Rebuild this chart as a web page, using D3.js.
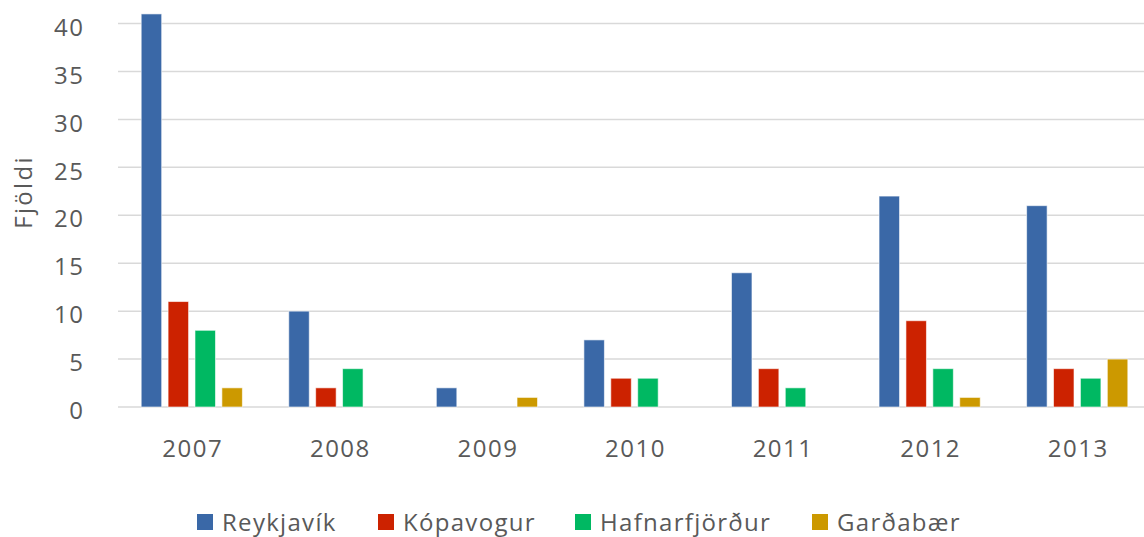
<!DOCTYPE html>
<html>
<head>
<meta charset="utf-8">
<script src="https://cdn.jsdelivr.net/npm/d3@7"></script>
<style>
  html, body { margin: 0; padding: 0; background: #fff; overflow: hidden; }
  svg { display: block; }
</style>
</head>
<body>
<svg id="chart"></svg>
<script>
// data
const years = ["2007", "2008", "2009", "2010", "2011", "2012", "2013"];
const towns = ["Reykjavík", "Kópavogur", "Hafnarfjörður", "Garðabær"];
const reykjavik     = [41, 10, 2, 7, 14, 22, 21];
const kopavogur     = [11, 2, 0, 3, 4, 9, 4];
const hafnarfjordur = [8, 4, 0, 3, 2, 4, 3];
const gardabaer     = [2, 0, 1, 0, 0, 1, 5];
const yTicks = [0, 5, 10, 15, 20, 25, 30, 35, 40];

const series = [reykjavik, kopavogur, hafnarfjordur, gardabaer];
const rows = years.map((y, i) => {
    let r = {year: y};
    towns.forEach((t, ti) => r[t] = series[ti][i]);
    return r;
});

const width = 1144, height = 537;
// plot runs a little past the right edge, like the original
const margin = {top: 23.5, right: -7, bottom: 130, left: 118};
const color = d3.scaleOrdinal().domain(towns)
    .range(["#3a68a7", "#cc2200", "#00b862", "#cc9900"]);
const textColor = "#595959";
const font = "'Open Sans', sans-serif";

const svg = d3.select("#chart").attr("width", width).attr("height", height);

const x0 = d3.scaleBand()
    .domain(years)
    .range([margin.left, width - margin.right])
    .padding(0);
const x1 = d3.scaleBand()
    .domain(towns)
    .range([0, x0.bandwidth()])
    .paddingInner(0.238)
    .paddingOuter(0.862);
const y = d3.scaleLinear()
    .domain([0, 40])
    .range([407, margin.top]);

// gridlines
svg.append("g")
    .selectAll("line")
    .data(yTicks)
    .join("line")
    .attr("x1", margin.left)
    .attr("x2", width)
    .attr("y1", d => y(d))
    .attr("y2", d => y(d))
    .attr("stroke", "#d9d9d9")
    .attr("stroke-width", 1.5);

// y labels
const yAxis = g => g
    .attr("transform", `translate(84.5,4)`)
    .call(d3.axisLeft(y).tickValues(yTicks).tickSize(0).tickPadding(0))
    .call(g => g.select(".domain").remove())
    .call(g => g.selectAll("text")
        .attr("fill", textColor)
        .attr("font-family", font)
        .attr("font-size", 24)
        .attr("letter-spacing", 1.5));
svg.append("g").call(yAxis);

// bars
svg.append("g")
    .selectAll("g")
    .data(rows)
    .join("g")
    .attr("transform", d => `translate(${x0(d.year)},0)`)
    .selectAll("rect")
    .data(d => towns.map(key => ({key, value: d[key]})).filter(d => d.value > 0))
    .join("rect")
    .attr("x", d => x1(d.key))
    .attr("y", d => y(d.value))
    .attr("width", x1.bandwidth())
    .attr("height", d => y(0) - y(d.value))
    .attr("fill", d => color(d.key))
    .attr("stroke", "#ffffff")
    .attr("stroke-opacity", 0.6)
    .attr("stroke-width", 1);

// x labels
const xAxis = g => g
    .attr("transform", `translate(1,${y(0)})`)
    .call(d3.axisBottom(x0).tickSize(0).tickPadding(33))
    .call(g => g.select(".domain").remove())
    .call(g => g.selectAll("text")
        .attr("fill", textColor)
        .attr("font-family", font)
        .attr("font-size", 24)
        .attr("letter-spacing", 1.5));
svg.append("g").call(xAxis);

// y title
svg.append("text")
    .attr("transform", "translate(32,192) rotate(-90)")
    .attr("text-anchor", "middle")
    .attr("fill", textColor)
    .attr("font-family", font)
    .attr("font-size", 24)
    .attr("letter-spacing", 2.3)
    .text("Fjöldi");

// legend
const legendX = [197, 378, 575, 812];
const legend = svg.append("g")
    .selectAll("g")
    .data(towns)
    .join("g")
    .attr("transform", (d, i) => `translate(${legendX[i]},514)`);
legend.append("rect")
    .attr("width", 16)
    .attr("height", 16)
    .attr("fill", d => color(d));
legend.append("text")
    .attr("x", 25)
    .attr("y", 17)
    .attr("fill", textColor)
    .attr("font-family", font)
    .attr("font-size", 24)
    .attr("letter-spacing", 1.3)
    .text(d => d);
</script>
</body>
</html>
